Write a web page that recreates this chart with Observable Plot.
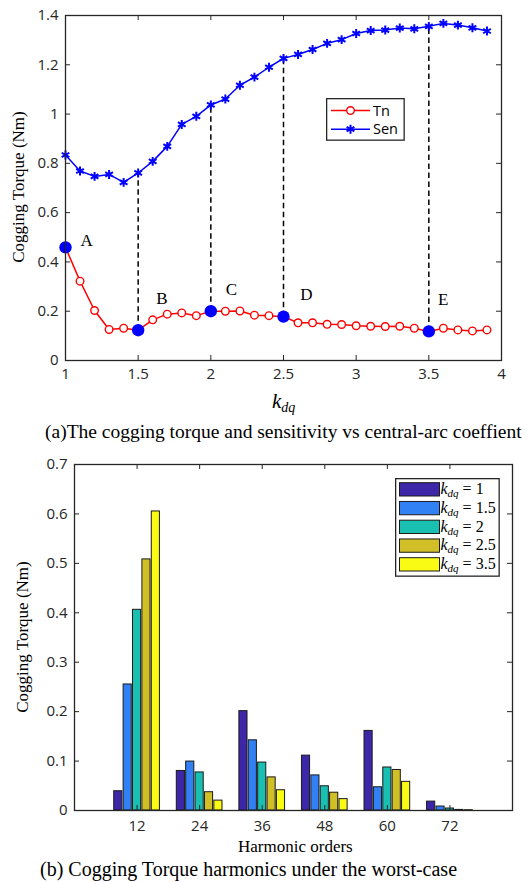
<!DOCTYPE html>
<html><head><meta charset="utf-8">
<script src="https://cdn.jsdelivr.net/npm/d3@7"></script>
<script src="https://cdn.jsdelivr.net/npm/@observablehq/plot@0.6"></script>
<style>
body{margin:0;background:#fff;}
#wrap{position:relative;width:527px;height:882px;overflow:hidden;background:#fff;}
.abs{position:absolute;white-space:nowrap;line-height:1;}
.serif{font-family:"Liberation Serif","DejaVu Serif",serif;color:#000;}
.ylab{transform:translate(-50%,-50%) rotate(-90deg);}
</style></head><body><div id="wrap"></div>
<script>
// ---------- data: top chart ----------
const kdq = [1.0,1.1,1.2,1.3,1.4,1.5,1.6,1.7,1.8,1.9,2.0,2.1,2.2,2.3,2.4,2.5,2.6,2.7,2.8,2.9,3.0,3.1,3.2,3.3,3.4,3.5,3.6,3.7,3.8,3.9];
const tn  = [0.459,0.322,0.203,0.126,0.131,0.123,0.165,0.188,0.193,0.182,0.200,0.200,0.201,0.184,0.182,0.178,0.153,0.153,0.147,0.146,0.141,0.139,0.138,0.139,0.131,0.118,0.131,0.124,0.120,0.124];
const sen = [0.834,0.769,0.747,0.755,0.723,0.761,0.808,0.869,0.958,0.991,1.037,1.061,1.117,1.150,1.190,1.226,1.242,1.262,1.287,1.302,1.327,1.339,1.341,1.349,1.346,1.356,1.368,1.361,1.350,1.337];
const seriesNames = ["Tn", "Sen"];
const pointNames = ["A","B","C","D","E"];
const pointK = [1, 1.5, 2, 2.5, 3.5];
const labelK = [1.145, 1.663, 2.142, 2.658, 3.599];
const labelT = [0.487, 0.250, 0.287, 0.266, 0.246];
const topXTicks = [1,1.5,2,2.5,3,3.5,4];
const topYTicks = [0,0.2,0.4,0.6,0.8,1,1.2,1.4];

// ---------- data: bottom chart ----------
const harmonics = [12,24,36,48,60,72];
const kdqCases = ["1","1.5","2","2.5","3.5"];
const amp_k1   = [0.039,0.080,0.201,0.111,0.161,0.018];
const amp_k1_5 = [0.255,0.099,0.142,0.071,0.047,0.008];
const amp_k2   = [0.406,0.077,0.097,0.049,0.087,0.004];
const amp_k2_5 = [0.508,0.037,0.067,0.036,0.082,0.0012];
const amp_k3_5 = [0.605,0.020,0.041,0.023,0.058,0.0006];
const barColors = ["#3e26a8","#3181f4","#19bfb0","#d1bf27","#f9fb14"];
const botYTicks = [0,0.1,0.2,0.3,0.4,0.5,0.6,0.7];

const fmt = d => String(+d.toFixed(2));
const SERIF = "Liberation Serif, DejaVu Serif, serif";
const SANS = "Open Sans, Noto Sans, sans-serif";
const AX = "#262626";
const wrap = document.getElementById("wrap");

function place(el, left, top) {
  el.style.position = "absolute"; el.style.left = left + "px"; el.style.top = top + "px";
  wrap.appendChild(el);
}
function htmlText(txt, left, top, size, cls, html) {
  const el = document.createElement("div");
  el.className = "abs serif " + (cls || "");
  el.style.fontSize = size + "px";
  if (html) el.innerHTML = txt; else el.textContent = txt;
  place(el, left, top);
  return el;
}

// ---------- top chart ----------
const idx = k => kdq.findIndex(v => Math.abs(v - k) < 1e-9);
const tnData = kdq.map((k,i) => ({k, v: tn[i]}));
const senData = kdq.map((k,i) => ({k, v: sen[i]}));
const keyPts = pointK.map((k,i) => ({k, v: tn[idx(k)], name: pointNames[i]}));
const dashData = pointK.filter(k => k > 1).map(k => ({k, lo: tn[idx(k)], hi: sen[idx(k)]}));

const H1 = 390, MT1 = 15, MB1 = 30, ML1 = 65, MR1 = 26;
const inH1 = H1 - MT1 - MB1, inW1 = 527 - ML1 - MR1;
const p1 = Plot.plot({
  width: 527, height: H1,
  marginTop: MT1, marginBottom: MB1, marginLeft: ML1, marginRight: MR1,
  x: {domain: [1, 4]}, y: {domain: [0, 1.4]},
  style: {fontFamily: SANS, fontSize: "15px", color: AX, background: "transparent", overflow: "visible"},
  marks: [
    Plot.ruleX(dashData, {x: "k", y1: "lo", y2: "hi", stroke: "#000", strokeWidth: 1.5, strokeDasharray: "5.5,3.5"}),
    Plot.line(tnData, {x: "k", y: "v", stroke: "#ff0000", strokeWidth: 1.5}),
    Plot.dot(tnData, {x: "k", y: "v", stroke: "#ff0000", fill: "white", r: 3.8, strokeWidth: 1.4}),
    Plot.line(senData, {x: "k", y: "v", stroke: "#0000ff", strokeWidth: 1.5}),
    Plot.dot(senData, {x: "k", y: "v", stroke: "#0000ff", symbol: "asterisk", r: 4.2, strokeWidth: 2}),
    Plot.dot(keyPts, {x: "k", y: "v", fill: "#0000ff", r: 6.2}),
    Plot.text(pointNames, {x: (d,i) => labelK[i], y: (d,i) => labelT[i], text: d => d, fontFamily: SERIF, fontSize: 17, fill: "#000"}),
    Plot.ruleX(topXTicks, {stroke: AX, insetTop: inH1 - 5}),
    Plot.ruleX(topXTicks, {stroke: AX, insetBottom: inH1 - 5}),
    Plot.ruleY(topYTicks, {stroke: AX, insetRight: inW1 - 5}),
    Plot.ruleY(topYTicks, {stroke: AX, insetLeft: inW1 - 5}),
    Plot.frame({stroke: AX, strokeWidth: 1.3}),
    Plot.axisX({ticks: topXTicks, tickSize: 0, tickPadding: 8, tickFormat: fmt, label: null, fill: AX}),
    Plot.axisY({ticks: topYTicks, tickSize: 0, tickPadding: 7, tickFormat: fmt, label: null, fill: AX})
  ]
});
place(p1, 0, 0);
htmlText("Cogging Torque (Nm)", 18, 187, 17, "ylab");

// top legend
{
  const lg = d3.create("svg").attr("width", 80).attr("height", 44);
  lg.append("rect").attr("x", 0.65).attr("y", 0.65).attr("width", 77.5).attr("height", 41.5)
    .attr("fill", "#fff").attr("stroke", AX).attr("stroke-width", 1.3);
  const cols = ["#ff0000", "#0000ff"];
  seriesNames.forEach((name, i) => {
    const y = 12.5 + i * 18.7;
    const g = lg.append("g");
    g.append("line").attr("x1", 5).attr("x2", 44).attr("y1", y).attr("y2", y).attr("stroke", cols[i]).attr("stroke-width", 1.5);
    if (i === 0) g.append("circle").attr("cx", 24.5).attr("cy", y).attr("r", 3.8).attr("fill", "#fff").attr("stroke", cols[i]).attr("stroke-width", 1.4);
    else g.append("path").attr("transform", `translate(24.5,${y})`).attr("d", d3.symbol(d3.symbolAsterisk, Math.PI * 4.2 * 4.2)()).attr("stroke", cols[i]).attr("stroke-width", 2).attr("fill", "none");
    g.append("text").attr("x", 47).attr("y", y).attr("dy", "0.35em").attr("font-family", SANS).attr("font-size", 14.5).attr("fill", "#000").text(name);
  });
  place(lg.node(), 326, 98);
}

// k_dq label
{
  const el = htmlText('k<sub style="font-size:14px;vertical-align:-4px">dq</sub>', 272, 391, 21, "", true);
  el.style.fontStyle = "italic";
}
// caption (a)
htmlText("(a)The cogging torque and sensitivity vs central-arc coeffient", 45, 422, 19.5);

// ---------- bottom chart ----------
const amps = [amp_k1, amp_k1_5, amp_k2, amp_k2_5, amp_k3_5];
const bars = [];
harmonics.forEach((h, j) => kdqCases.forEach((c, i) => bars.push({h, i, c, v: amps[i][j]})));

const H2 = 395, MT2 = 14, MB2 = 35, ML2 = 74, MR2 = 15;
const inH2 = H2 - MT2 - MB2, inW2 = 527 - ML2 - MR2;
const p2 = Plot.plot({
  width: 527, height: H2,
  marginTop: MT2, marginBottom: MB2, marginLeft: ML2, marginRight: MR2,
  x: {domain: [0, 84]}, y: {domain: [0, 0.7]},
  color: {domain: kdqCases, range: barColors},
  style: {fontFamily: SANS, fontSize: "15px", color: AX, background: "transparent", overflow: "visible"},
  marks: [
    Plot.rectY(bars, {x1: d => d.h + (d.i - 2) * 1.8 - 0.78, x2: d => d.h + (d.i - 2) * 1.8 + 0.78, y: "v", fill: "c", stroke: "#1a1a1a", strokeWidth: 1}),
    Plot.ruleX(harmonics, {stroke: AX, insetTop: inH2 - 5}),
    Plot.ruleX(harmonics, {stroke: AX, insetBottom: inH2 - 5}),
    Plot.ruleY(botYTicks, {stroke: AX, insetRight: inW2 - 5}),
    Plot.ruleY(botYTicks, {stroke: AX, insetLeft: inW2 - 5}),
    Plot.frame({stroke: AX, strokeWidth: 1.3}),
    Plot.axisX({ticks: harmonics, tickSize: 0, tickPadding: 10, label: null, fill: AX}),
    Plot.axisY({ticks: botYTicks, tickSize: 0, tickPadding: 7, tickFormat: fmt, label: null, fill: AX})
  ]
});
place(p2, 0, 450);
htmlText("Cogging Torque (Nm)", 22, 637, 17, "ylab");

// bottom legend
{
  const lg = d3.create("svg").attr("width", 106).attr("height", 100);
  lg.append("rect").attr("x", 0.65).attr("y", 0.65).attr("width", 103.5).attr("height", 97.5)
    .attr("fill", "#fff").attr("stroke", AX).attr("stroke-width", 1.3);
  kdqCases.forEach((c, i) => {
    const y = 4.7 + i * 18.75;
    lg.append("rect").attr("x", 4.5).attr("y", y).attr("width", 40).attr("height", 13.3)
      .attr("fill", barColors[i]).attr("stroke", "#1a1a1a").attr("stroke-width", 1);
    const t = lg.append("text").attr("x", 45.5).attr("y", y + 11.5).attr("font-family", SERIF).attr("font-size", 16).attr("fill", "#000");
    t.append("tspan").attr("font-style", "italic").text("k");
    t.append("tspan").attr("font-style", "italic").attr("font-size", 11).attr("dy", 3).text("dq");
    t.append("tspan").attr("dy", -3).attr("xml:space", "preserve").text(" = " + c);
  });
  place(lg.node(), 395, 478);
}

htmlText("Harmonic orders", 238, 838, 17);
htmlText("(b) Cogging Torque harmonics under the worst-case", 40, 859, 20);
</script></body></html>
